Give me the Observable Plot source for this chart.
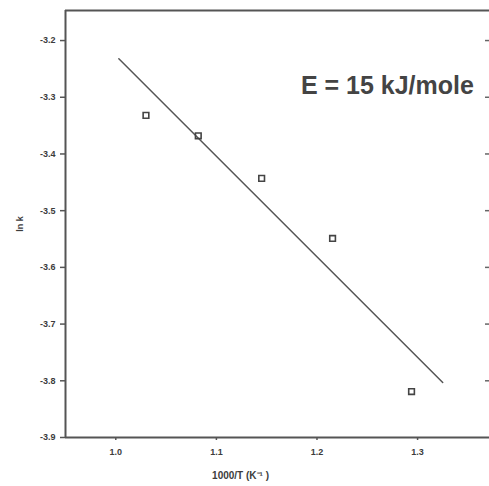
<!DOCTYPE html>
<html>
<head>
<meta charset="utf-8">
<script src="https://cdn.jsdelivr.net/npm/d3@7"></script>
<script src="https://cdn.jsdelivr.net/npm/@observablehq/plot@0.6"></script>
<style>
  html, body { margin: 0; padding: 0; background: #fff; }
  svg { display: block; }
</style>
</head>
<body>
<div id="chart"></div>
<script>
// Data
const invT = [1.03, 1.082, 1.145, 1.2155, 1.294];        // 1000/T (K^-1)
const lnk = [-3.332, -3.368, -3.443, -3.549, -3.819];     // ln k
const fitX = [1.003, 1.325];                              // fitted line ends
const fitY = [-3.232, -3.803];
const xTicks = [1.0, 1.1, 1.2, 1.3];
const yTicks = [-3.2, -3.3, -3.4, -3.5, -3.6, -3.7, -3.8, -3.9];
const annotation = ["E = 15 kJ/mole"];
const annX = [1.184], annY = [-3.2935];
const xTitle = ["1000/T (K\u207B\u00B9 )"];
const xTitleX = [1.124];

const points = invT.map((x, i) => ({x, y: lnk[i]}));
const fit = fitX.map((x, i) => ({x, y: fitY[i]}));

const ink = "#3c3c3c";
const font = "'Liberation Sans', Arial, sans-serif";

const chart = Plot.plot({
  width: 489,
  height: 486,
  marginLeft: 65,
  marginRight: 0,
  marginTop: 10,
  marginBottom: 49,
  style: {fontFamily: font, color: ink, background: "#fff"},
  x: {domain: [0.95, 1.3715]},
  y: {domain: [-3.9, -3.147]},
  marks: [
    // frame lines
    Plot.ruleX([0.95], {stroke: "#555", strokeWidth: 2}),
    Plot.ruleY([-3.9], {stroke: "#555", strokeWidth: 2}),
    Plot.ruleY([-3.147], {stroke: "#555", strokeWidth: 2}),
    // right-side inward ticks
    Plot.tickY(yTicks.slice(0, 7), {y: d => d, insetLeft: 420, stroke: "#666", strokeWidth: 1.5}),
    Plot.axisY({
      ticks: yTicks, tickSize: 5, tickPadding: 5,
      tickFormat: d => d.toFixed(1),
      fontSize: 9, fontWeight: "bold",
      label: "ln k", labelAnchor: "center", labelOffset: 49, labelArrow: "none",
      stroke: "#555", strokeWidth: 1.5
    }),
    Plot.axisX({
      ticks: xTicks, tickSize: 3, tickPadding: 8,
      tickFormat: d => d.toFixed(1),
      fontSize: 9, fontWeight: "bold",
      label: null,
      stroke: "#555", strokeWidth: 1.5
    }),
    Plot.text(xTitle, {x: xTitleX, frameAnchor: "bottom", dy: 41, fontSize: 10, fontWeight: "bold", fill: ink}),
    // fitted line
    Plot.line(fit, {x: "x", y: "y", stroke: "#555", strokeWidth: 1.5}),
    // data points
    Plot.dot(points, {x: "x", y: "y", symbol: "square", r: 3.2, stroke: "#444", strokeWidth: 1.6, fill: "none"}),
    // annotation
    Plot.text(annotation, {x: annX, y: annY, textAnchor: "start", lineAnchor: "bottom", fontSize: 25, fontWeight: "bold", fill: "#444"})
  ]
});
document.getElementById("chart").appendChild(chart);
</script>
</body>
</html>
